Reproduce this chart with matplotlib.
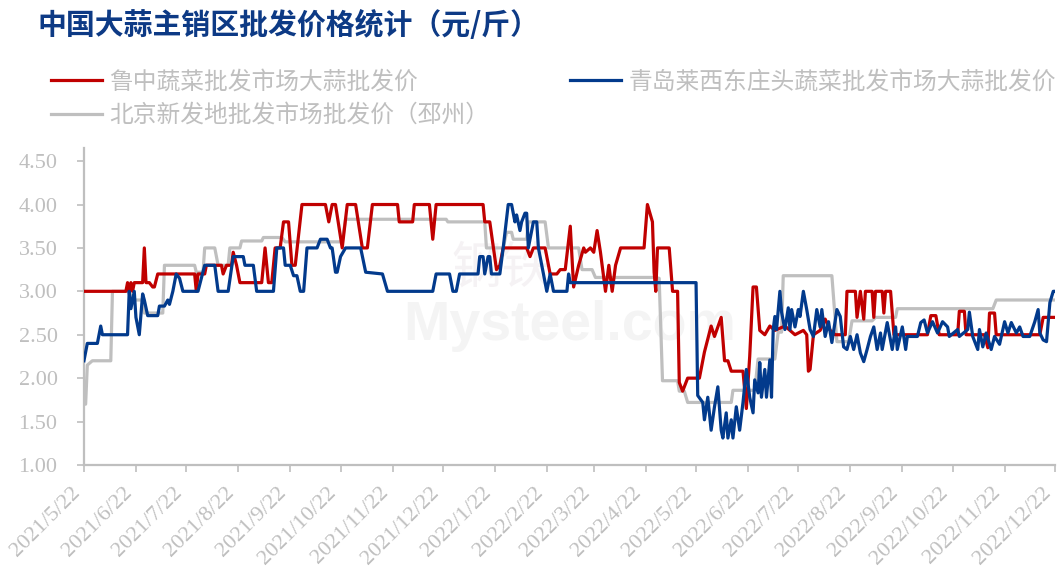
import pandas as pd
import matplotlib.pyplot as plt

plt.rcParams['font.family'] = ['Noto Sans CJK SC', 'DejaVu Sans']

start = pd.Timestamp('2021-05-22')
end = pd.Timestamp('2022-12-22')

# 鲁中蔬菜批发市场大蒜批发价 (days since 2021/5/22, price)
red_days = [0, 25, 26, 27, 28, 29, 30, 35, 36, 37, 39, 41, 42, 44, 66, 67, 68, 72, 73, 82, 83, 85,
            88, 89, 91, 93, 106, 108, 110, 112, 114, 117, 119, 122, 124, 126, 130, 144, 146, 148,
            150, 154, 157, 162, 166, 169, 172, 187, 188, 196, 197, 206, 208, 210, 238, 239, 242,
            246, 248, 250, 264, 266, 268, 275, 278, 282, 284, 287, 290, 292, 295, 298, 299, 302,
            304, 306, 308, 309, 311, 313, 315, 317, 320, 334, 336, 339, 340, 341, 342, 349, 351,
            354, 355, 357, 360, 367, 370, 374, 376, 380, 382, 384, 386, 393, 395, 397, 399, 401,
            403, 406, 409, 412, 418, 424, 429, 431, 432, 433, 435, 439, 442, 445, 448, 454, 455,
            460, 461, 463, 465, 466, 470, 471, 472, 476, 477, 478, 481, 483, 503, 505, 508, 510,
            521, 522, 525, 526, 537, 539, 540, 543, 544, 570, 572, 579]
red_vals = [3.0, 3.0, 3.1, 3.0, 3.1, 3.0, 3.1, 3.1, 3.5, 3.1, 3.1, 3.05, 3.05, 3.2, 3.2, 3.0, 3.2,
            3.2, 3.3, 3.3, 3.2, 3.3, 3.3, 3.45, 3.3, 3.1, 3.1, 3.5, 3.1, 3.1, 3.5, 3.5, 3.8, 3.8,
            3.3, 3.3, 4.0, 4.0, 3.8, 4.0, 4.0, 3.5, 4.0, 4.0, 3.5, 3.5, 4.0, 4.0, 3.8, 3.8, 4.0,
            4.0, 3.6, 4.0, 4.0, 3.8, 3.8, 3.25, 3.3, 3.5, 3.5, 3.4, 3.5, 3.5, 3.2, 3.2, 3.25, 3.25,
            3.75, 3.05, 3.3, 3.5, 3.45, 3.5, 3.45, 3.7, 3.45, 3.3, 3.0, 3.3, 3.0, 3.3, 3.5, 3.5,
            4.0, 3.8, 3.22, 3.0, 3.5, 3.5, 3.0, 3.0, 1.95, 1.85, 2.0, 2.0, 2.3, 2.6, 2.48, 2.7,
            2.2, 2.2, 2.08, 2.08, 1.65, 2.25, 3.05, 3.05, 2.55, 2.5, 2.6, 2.55, 2.6, 2.5, 2.55,
            2.5, 2.08, 2.1, 2.5, 2.55, 2.68, 2.55, 2.5, 2.5, 3.0, 3.0, 2.7, 3.0, 2.68, 3.0, 3.0,
            2.7, 3.0, 3.0, 2.75, 3.0, 3.0, 2.5, 2.5, 2.72, 2.72, 2.5, 2.5, 2.77, 2.77, 2.5, 2.5,
            2.35, 2.75, 2.75, 2.5, 2.5, 2.7, 2.7]

# 青岛莱西东庄头蔬菜批发市场大蒜批发价
blue_days = [0, 2, 8, 10, 11, 26, 27, 28, 30, 31, 33, 35, 36, 38, 44, 45, 48, 50, 51, 53, 55, 57,
             59, 68, 72, 78, 80, 86, 89, 95, 96, 101, 103, 113, 115, 119, 120, 123, 125, 127, 129,
             131, 133, 139, 141, 145, 147, 148, 150, 151, 153, 156, 165, 168, 178, 181, 208, 210,
             218, 220, 222, 224, 235, 236, 238, 239, 241, 242, 243, 248, 250, 253, 255, 257, 258,
             260, 261, 263, 264, 265, 268, 270, 271, 274, 276, 278, 280, 288, 289, 290, 365, 366,
             369, 370, 372, 374, 376, 378, 380, 381, 383, 384, 386, 387, 389, 391, 393, 395, 397,
             399, 400, 402, 403, 404, 406, 407, 409, 410, 411, 412, 413, 415, 416, 418, 420, 421,
             422, 424, 426, 427, 429, 431, 433, 435, 437, 439, 440, 442, 444, 446, 449, 451, 453,
             455, 457, 459, 461, 463, 465, 467, 469, 471, 473, 475, 476, 479, 482, 484, 485, 488,
             490, 491, 497, 499, 501, 503, 506, 509, 512, 515, 516, 521, 522, 527, 528, 530, 533,
             534, 536, 538, 541, 543, 546, 549, 551, 553, 556, 558, 560, 564, 567, 569, 570, 572,
             574, 576, 578, 579]
blue_vals = [2.2, 2.4, 2.4, 2.6, 2.5, 2.5, 3.0, 2.8, 3.0, 2.7, 2.5, 2.97, 2.9, 2.72, 2.72, 2.83,
             2.83, 2.9, 2.85, 3.0, 3.2, 3.15, 3.0, 3.0, 3.3, 3.3, 3.0, 3.0, 3.4, 3.4, 3.3, 3.3,
             3.0, 3.0, 3.5, 3.5, 3.3, 3.3, 3.18, 3.18, 3.0, 3.0, 3.5, 3.5, 3.6, 3.6, 3.5, 3.5,
             3.22, 3.22, 3.4, 3.5, 3.5, 3.22, 3.2, 3.0, 3.0, 3.2, 3.2, 3.0, 3.0, 3.2, 3.2, 3.4,
             3.4, 3.2, 3.4, 3.4, 3.2, 3.2, 3.5, 4.0, 4.0, 3.8, 3.88, 3.7, 3.8, 3.9, 3.9, 3.5, 3.8,
             3.8, 3.5, 3.2, 3.0, 3.2, 3.0, 3.0, 3.2, 3.1, 3.1, 1.8, 1.72, 1.52, 1.78, 1.4, 1.67,
             1.9, 1.4, 1.31, 1.6, 1.31, 1.52, 1.31, 1.67, 1.4, 1.72, 2.1, 1.78, 1.6, 1.98, 1.83,
             2.18, 1.78, 2.1, 1.78, 2.21, 1.78, 2.56, 2.71, 2.56, 3.0, 2.76, 2.56, 2.81, 2.56,
             2.79, 2.59, 2.79, 2.71, 3.0, 2.79, 2.56, 2.48, 2.79, 2.59, 2.79, 2.48, 2.65, 2.41,
             2.79, 2.71, 2.36, 2.33, 2.48, 2.33, 2.5, 2.29, 2.19, 2.33, 2.48, 2.59, 2.33, 2.52,
             2.33, 2.64, 2.33, 2.59, 2.33, 2.59, 2.33, 2.48, 2.48, 2.64, 2.67, 2.52, 2.65, 2.52,
             2.65, 2.59, 2.48, 2.56, 2.48, 2.56, 2.76, 2.48, 2.33, 2.56, 2.36, 2.52, 2.33, 2.48,
             2.39, 2.65, 2.52, 2.64, 2.52, 2.59, 2.48, 2.48, 2.65, 2.79, 2.52, 2.44, 2.42, 2.87,
             3.0, 3.0]

# 北京新发地批发市场批发价（邳州）
gray_days = [0, 1, 2, 5, 16, 17, 27, 29, 35, 36, 47, 48, 66, 67, 71, 72, 78, 80, 86, 87, 93, 94,
             106, 107, 118, 120, 154, 156, 216, 217, 239, 240, 250, 252, 255, 256, 264, 265, 275,
             277, 295, 297, 303, 305, 340, 343, 345, 354, 355, 358, 360, 386, 387, 400, 402, 412,
             414, 416, 417, 446, 449, 456, 458, 470, 472, 484, 485, 542, 544, 579]
gray_vals = [1.7, 1.7, 2.15, 2.2, 2.2, 3.0, 3.0, 2.9, 2.9, 2.75, 2.75, 3.3, 3.3, 3.22, 3.22, 3.5,
             3.5, 3.3, 3.3, 3.5, 3.5, 3.58, 3.58, 3.62, 3.62, 3.57, 3.57, 3.83, 3.83, 3.8, 3.8,
             3.5, 3.5, 3.68, 3.68, 3.6, 3.6, 3.8, 3.8, 3.5, 3.5, 3.25, 3.25, 3.16, 3.16, 3.15,
             1.97, 1.97, 1.85, 1.85, 1.72, 1.72, 1.86, 1.86, 2.22, 2.22, 2.53, 2.53, 3.18, 3.18,
             2.42, 2.42, 2.66, 2.66, 2.7, 2.7, 2.8, 2.8, 2.9, 2.9]

labels = ['鲁中蔬菜批发市场大蒜批发价', '北京新发地批发市场批发价（邳州）', '青岛莱西东庄头蔬菜批发市场大蒜批发价']
tick_dates = pd.date_range(start, end, freq=pd.DateOffset(months=1))
tick_labels = [f'{d.year}/{d.month}/{d.day}' for d in tick_dates]
y_ticks = [1.0, 1.5, 2.0, 2.5, 3.0, 3.5, 4.0, 4.5]


def to_dates(days):
    return start + pd.to_timedelta(days, unit='D')


fig = plt.figure(figsize=(10.6, 5.74), dpi=100)
ax = fig.add_axes([0.0792, 0.19, 0.916, 0.552])

# watermark
ax.text(0.5, 0.44, 'Mysteel.com', transform=ax.transAxes, ha='center', va='center',
        fontsize=40, fontweight='bold', color='#F4F4F4', family='Liberation Sans', zorder=0)
ax.text(0.43, 0.62, '钢铁', transform=ax.transAxes, ha='center', va='center',
        fontsize=36, color='#F5F2F4', zorder=0)

l_red, = ax.plot(to_dates(red_days), red_vals, color='#C00000', lw=2.3, zorder=3)
l_blue, = ax.plot(to_dates(blue_days), blue_vals, color='#023A8C', lw=2.3, zorder=4)
l_gray, = ax.plot(to_dates(gray_days), gray_vals, color='#BFBFBF', lw=2.3, zorder=2)

ax.set_xlim(start, end)
ax.set_ylim(1.0, 4.65)
ax.set_yticks(y_ticks)
ax.set_yticklabels([f'{v:.2f}' for v in y_ticks])
ax.set_xticks(tick_dates)
ax.set_xticklabels(tick_labels, rotation=45, ha='right', va='bottom', rotation_mode='anchor')

for s in ['top', 'right']:
    ax.spines[s].set_visible(False)
for s in ['left', 'bottom']:
    ax.spines[s].set_color('#BFBFBF')
    ax.spines[s].set_linewidth(1.6)
ax.tick_params(axis='both', colors='#BFBFBF', length=5, width=1.2, labelcolor='#BFBFBF')
ax.tick_params(axis='y', pad=14)
ax.tick_params(axis='x', pad=18)
for t in ax.get_yticklabels():
    t.set_family('Liberation Serif')
    t.set_fontsize(16)
for t in ax.get_xticklabels():
    t.set_family('Liberation Serif')
    t.set_fontsize(16)

fig.text(0.035, 0.957, '中国大蒜主销区批发价格统计（元/斤）', fontsize=20.8, fontweight='bold',
         color='#0D3A85', va='center')

fig.legend([l_red, l_gray, l_blue], labels, loc='upper left', bbox_to_anchor=(0.028, 0.915),
           ncol=2, frameon=False, fontsize=17.1, handlelength=2.15, handletextpad=0.3,
           columnspacing=3.4, labelspacing=0.45, labelcolor='#BFBFBF')

fig.savefig('out.png', dpi=100)
